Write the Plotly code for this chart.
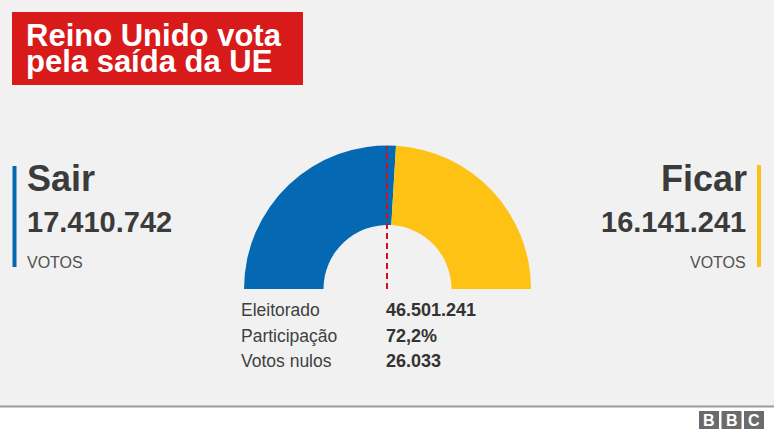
import plotly.graph_objects as go

# ---- data ----
categories = ["Sair", "Ficar"]
votes = [17410742, 16141241]
colors = ["#0568b3", "#fec214"]
stat_labels = ["Eleitorado", "Participação", "Votos nulos"]
stat_values = ["46.501.241", "72,2%", "26.033"]
title_lines = ["Reino Unido vota", "pela saída da UE"]
votes_word = "VOTOS"

W, H = 774, 434
FONT = "Liberation Sans, Arial, sans-serif"
DARK = "#3b3b3b"


def X(px):
    return px / W


def Y(py):
    return 1 - py / H


def fmt(v):
    return f"{v:,}".replace(",", ".")


fig = go.Figure()

# semicircle donut: two visible slices + transparent lower half
fig.add_trace(go.Pie(
    values=votes + [sum(votes)],
    labels=categories + ["_hidden"],
    marker=dict(colors=colors + ["rgba(0,0,0,0)"], line=dict(width=0)),
    hole=64 / 143.5,
    sort=False,
    direction="clockwise",
    rotation=270,
    textinfo="none",
    hoverinfo="skip",
    showlegend=False,
    domain=dict(x=[X(244), X(531)], y=[Y(432.5), Y(145.5)]),
))

shapes = []
# white footer + separator line
shapes.append(dict(type="rect", xref="paper", yref="paper", x0=0, x1=1, y0=0, y1=Y(407),
                   fillcolor="white", line=dict(width=0), layer="below"))
shapes.append(dict(type="line", xref="paper", yref="paper", x0=0, x1=1, y0=Y(406.5), y1=Y(406.5),
                   line=dict(color="#9b9b9b", width=2), layer="below"))
# title box
shapes.append(dict(type="rect", xref="paper", yref="paper", x0=X(12), x1=X(303), y0=Y(85), y1=Y(12),
                   fillcolor="#d81a1a", line=dict(width=0), layer="below"))
# side colour bars
shapes.append(dict(type="rect", xref="paper", yref="paper", x0=X(12.5), x1=X(16.5), y0=Y(267), y1=Y(166),
                   fillcolor=colors[0], line=dict(width=0), layer="below"))
shapes.append(dict(type="rect", xref="paper", yref="paper", x0=X(757), x1=X(761), y0=Y(267), y1=Y(165),
                   fillcolor=colors[1], line=dict(width=0), layer="below"))
# 50% dashed line
shapes.append(dict(type="line", xref="paper", yref="paper", x0=X(387), x1=X(387), y0=Y(289), y1=Y(146),
                   line=dict(color="#d0101b", width=2, dash="6px,4px"), layer="above"))
# BBC logo blocks
for x0 in [699, 721.5, 744]:
    shapes.append(dict(type="rect", xref="paper", yref="paper", x0=X(x0), x1=X(x0 + 20), y0=Y(429), y1=Y(411),
                       fillcolor="#6b6b6b", line=dict(width=0), layer="below"))

annotations = []


def ann(text, x, y, size, color=DARK, xanchor="left", bold=False):
    annotations.append(dict(
        text=f"<b>{text}</b>" if bold else text,
        xref="paper", yref="paper", x=X(x), y=Y(y),
        xanchor=xanchor, yanchor="middle", showarrow=False,
        font=dict(family=FONT, size=size, color=color),
    ))


# title (two tight lines; fixed-height boxes so they do not overlap)
TS = 31
annotations.append(dict(
    text=f"<b>{title_lines[0]}</b>", xref="paper", yref="paper", x=X(25), y=Y(45 - 0.905 * TS),
    xanchor="left", yanchor="top", height=28, valign="top", borderpad=0, showarrow=False,
    font=dict(family=FONT, size=TS, color="white")))
annotations.append(dict(
    text=f"<b>{title_lines[1]}</b>", xref="paper", yref="paper", x=X(25), y=Y(73 + 0.212 * TS),
    xanchor="left", yanchor="bottom", height=30, valign="bottom", borderpad=0, showarrow=False,
    font=dict(family=FONT, size=TS, color="white")))

# left side: Sair
ann(categories[0], 25, 178.5, 36, bold=True)
ann(fmt(votes[0]), 25, 221.5, 29, bold=True)
ann(votes_word, 25, 262, 16, "#505050")

# right side: Ficar
ann(categories[1], 749, 178.5, 36, xanchor="right", bold=True)
ann(fmt(votes[1]), 748, 221.5, 29, xanchor="right", bold=True)
ann(votes_word, 748, 262, 16, "#505050", xanchor="right")

# stats table
row_y = [309.5, 335.5, 360.5]
for lab, val, yy in zip(stat_labels, stat_values, row_y):
    ann(lab, 239, yy, 17.5, "#3f3f3f")
    ann(val, 384, yy, 18, "#333333", bold=True)

# BBC letters
for letter, x0 in zip("BBC", [699, 721.5, 744]):
    annotations.append(dict(text=f"<b>{letter}</b>", xref="paper", yref="paper",
                            x=X(x0 + 10), y=Y(420), xanchor="center", yanchor="middle",
                            showarrow=False, font=dict(family=FONT, size=16, color="white")))

fig.update_layout(
    width=W, height=H,
    margin=dict(l=0, r=0, t=0, b=0),
    paper_bgcolor="#f1f1f1",
    plot_bgcolor="#f1f1f1",
    shapes=shapes,
    annotations=annotations,
    showlegend=False,
)

fig.write_html("out.html", config={"displayModeBar": False})
